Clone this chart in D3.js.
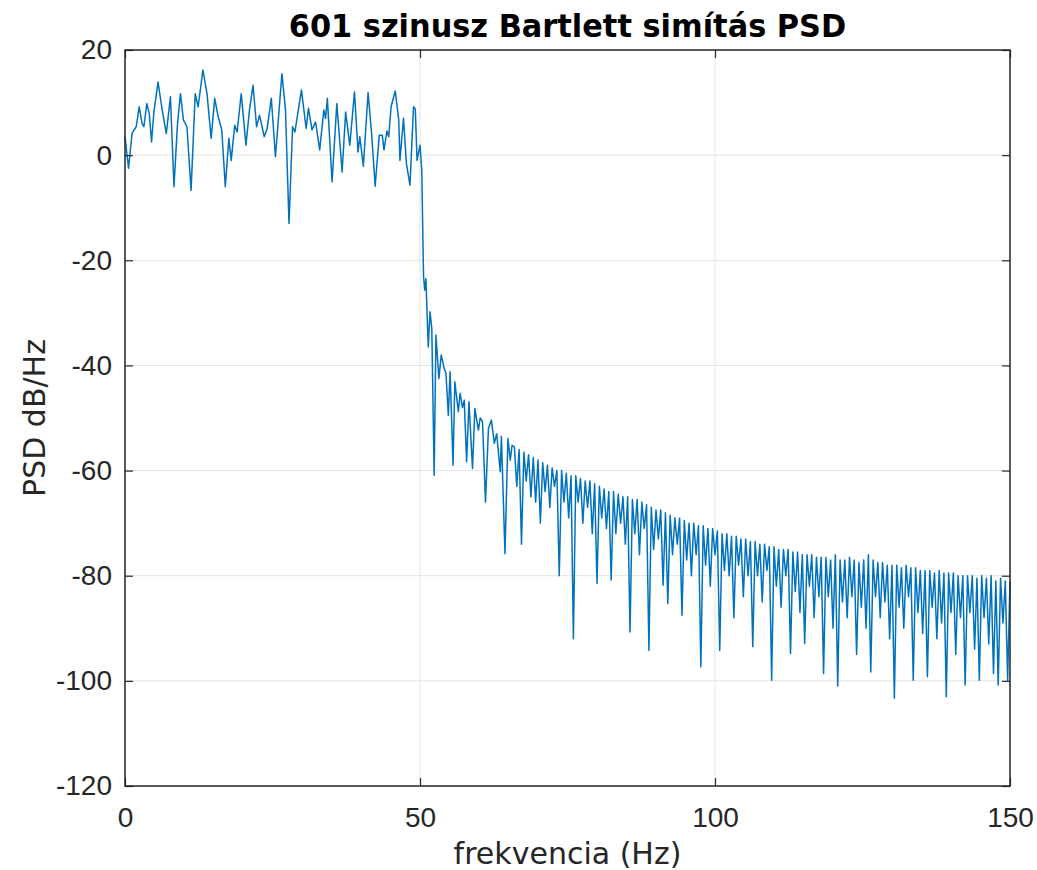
<!DOCTYPE html>
<html>
<head>
<meta charset="utf-8">
<script src="https://cdn.jsdelivr.net/npm/d3@7"></script>
<style>
  body { margin: 0; background: #fff; }
  svg { display: block; font-family: "DejaVu Sans", sans-serif; }
</style>
</head>
<body>
<svg id="chart" width="1037" height="870"></svg>
<script>
/* global d3 */

// pass band + transition as [Hz, dB/Hz]
const headFreq = [
    0.0, 0.6, 1.2, 1.9, 2.4, 2.9, 3.2, 3.7, 4.1, 4.5, 4.9, 5.6, 6.3, 7.0, 7.7, 8.3, 8.9, 9.4, 9.9, 10.5,
    11.2, 11.9, 12.4, 13.2, 13.9, 14.6, 15.2, 15.8, 16.4, 17.0, 17.6, 18.0, 18.6, 19.0, 19.7, 20.5, 21.1, 21.7, 22.3, 22.8,
    23.6, 24.1, 24.8, 25.5, 26.6, 27.2, 27.8, 28.4, 28.8, 29.9, 30.7, 31.1, 31.7, 32.3, 33.0, 33.7, 34.0, 34.3, 35.1, 35.9,
    36.8, 37.4, 38.1, 38.9, 39.5, 39.8, 40.4, 41.2, 41.8, 42.4, 43.1, 43.6, 43.9, 44.4, 44.7, 45.1, 45.8, 46.4, 46.6, 47.2,
    47.7, 48.3, 48.9, 49.2, 49.5, 50.0, 50.3, 50.6, 50.8, 51.0, 51.4, 51.7, 52.0, 52.4, 52.7, 53.2, 53.6, 54.1, 54.4, 54.8,
    55.1, 55.6, 55.9, 56.5, 56.8, 57.2, 57.5, 57.9, 58.3, 58.9, 59.3, 59.9, 60.2, 60.6, 61.1, 61.6, 62.1, 62.6, 63.0, 63.6,
    63.8, 64.4, 64.9, 65.3, 65.6
];
const headPsd = [
    3.5, -2.5, 4.2, 5.4, 9.2, 6.0, 5.4, 9.8, 8.0, 2.5, 8.2, 13.9, 8.6, 4.1, 11.1, -6.0, 6.0, 11.7, 6.7, 5.4,
    -6.7, 11.7, 9.2, 16.2, 11.7, 3.2, 10.8, 7.3, 4.8, -6.0, 3.2, -1.0, 5.7, 4.4, 11.7, 1.9, 8.6, 13.3, 5.4, 7.6,
    3.5, 5.1, 10.8, -0.3, 15.5, 8.6, -13.0, 5.4, 4.4, 12.4, 5.1, 8.9, 4.8, 6.3, 1.0, 8.6, 7.0, 10.8, -5.1, 9.8,
    -3.2, 8.2, 1.9, 12.0, 0.6, 3.5, -2.1, 11.9, 4.1, -5.9, 3.8, 3.8, 1.0, 4.6, 3.5, 9.2, 12.2, 6.7, -1.0, 7.0,
    -1.6, -5.7, 9.2, 8.8, -1.0, 1.9, -3.0, -23.0, -25.7, -23.5, -36.5, -29.8, -33.0, -60.9, -34.2, -42.5, -38.0, -40.6, -41.5, -49.5,
    -41.2, -59.0, -43.1, -48.8, -45.3, -48.0, -46.6, -58.3, -46.9, -59.6, -48.2, -52.3, -50.0, -50.7, -66.0, -52.0, -50.4, -54.8, -53.0, -60.2,
    -53.5, -75.8, -53.9, -58.0, -55.2
];

// stop band, every 0.4 Hz from 66 Hz to 150 Hz
const tailStart = 66, tailStep = 0.4;
const tailPsd = [
    -55.5, -63, -56, -74, -56.5, -62, -57, -65, -57.5, -66,
    -58, -70, -58.5, -64, -59, -67, -59.5, -63, -60, -80,
    -60, -66, -60.5, -69, -61, -92, -61, -66, -61.5, -70,
    -62, -67, -62, -72, -62.5, -81.5, -63, -69, -63.5, -71,
    -64, -80.8, -64, -72, -64.5, -70, -65, -74, -65, -90.7,
    -65.5, -72, -65.5, -76, -66, -71, -66.5, -94.2, -67, -75,
    -67.5, -73, -67.5, -81.8, -68, -85.3, -68.5, -76, -69, -74,
    -69, -87.5, -69.5, -77, -70, -80, -70, -76, -70.5, -97.3,
    -70.5, -78, -71, -82, -71, -76, -71.5, -94.2, -72, -79,
    -72, -80, -72.5, -88, -72.5, -78, -73, -84, -73, -80,
    -73.5, -93.5, -73.5, -80, -74, -85, -74, -79, -74.5, -99.9,
    -74.5, -82, -75, -86, -75, -80, -75, -94.8, -75.5, -83,
    -75.5, -87, -76, -92.9, -76, -82, -76, -88, -76.5, -84,
    -76.5, -98.6, -76.5, -84, -77, -90, -76, -101, -77, -85,
    -77, -88, -76.5, -84, -77, -95, -77.5, -86, -77, -90,
    -76, -98.3, -77, -84, -77.5, -88, -77.5, -85, -78, -92,
    -78, -103.3, -78, -86, -78.5, -90, -78, -84, -78.5, -99.9,
    -78.5, -87, -79, -91, -79, -99.2, -79, -86, -79.5, -92,
    -79, -89, -79.5, -103, -79.5, -87, -79.5, -95, -80, -88,
    -80, -100.8, -80, -87, -80, -94, -80.5, -99.9, -80, -88,
    -80.5, -93, -80, -98.6, -81, -100.8, -80.5, -89, -81, -100,
    -81
];

const xTicks = [0, 50, 100, 150];
const yTicks = [-120, -100, -80, -60, -40, -20, 0, 20];

const series = headFreq.map((f, i) => ({ f, v: headPsd[i] }))
    .concat(tailPsd.map((v, i) => ({ f: tailStart + i * tailStep, v })));

// layout
const margin = { left: 125, right: 27, top: 50, bottom: 84 };
const W = 1037, H = 870;
const iw = W - margin.left - margin.right;
const ih = H - margin.top - margin.bottom;
const axisColor = "#262626";

const svg = d3.select("#chart");
const g = svg.append("g").attr("transform", `translate(${margin.left},${margin.top})`);

const x = d3.scaleLinear().domain([0, 150]).range([0, iw]);
const y = d3.scaleLinear().domain([-120, 20]).range([ih, 0]);

// grid
g.append("g")
    .selectAll("line")
    .data(xTicks)
    .enter().append("line")
    .attr("x1", d => x(d)).attr("x2", d => x(d))
    .attr("y1", 0).attr("y2", ih)
    .attr("stroke", "#e3e3e3").attr("stroke-width", 1);
g.append("g")
    .selectAll("line")
    .data(yTicks)
    .enter().append("line")
    .attr("x1", 0).attr("x2", iw)
    .attr("y1", d => y(d)).attr("y2", d => y(d))
    .attr("stroke", "#e3e3e3").attr("stroke-width", 1);

// data line
const line = d3.line().x(d => x(d.f)).y(d => y(d.v));
g.append("path")
    .datum(series)
    .attr("d", line)
    .attr("fill", "none")
    .attr("stroke", "#0072BD")
    .attr("stroke-width", 1.5)
    .attr("stroke-linejoin", "round");

// axes, ticks pointing inward on every side
function styleAxis(sel) {
    sel.select(".domain").remove();
    sel.selectAll(".tick line").attr("stroke", axisColor).attr("stroke-width", 1.2);
    sel.selectAll(".tick text").attr("fill", axisColor).style("font-size", "28px");
}

const gx = g.append("g")
    .attr("transform", `translate(0,${ih})`)
    .call(d3.axisBottom(x).tickValues(xTicks).tickSizeInner(-8).tickFormat(d3.format("d")))
    .call(styleAxis);
gx.selectAll(".tick text").attr("y", 31).attr("dy", "0.35em");

g.append("g")
    .call(d3.axisTop(x).tickValues(xTicks).tickSizeInner(-8).tickFormat(""))
    .call(styleAxis);

const gy = g.append("g")
    .call(d3.axisLeft(y).tickValues(yTicks).tickSizeInner(-8).tickFormat(d => String(d)))
    .call(styleAxis);
gy.selectAll(".tick text").attr("x", -13);

g.append("g")
    .attr("transform", `translate(${iw},0)`)
    .call(d3.axisRight(y).tickValues(yTicks).tickSizeInner(-8).tickFormat(""))
    .call(styleAxis);

// box
g.append("rect")
    .attr("width", iw).attr("height", ih)
    .attr("fill", "none")
    .attr("stroke", axisColor)
    .attr("stroke-width", 1.5);

// labels
svg.append("text")
    .attr("transform", `translate(${margin.left + iw / 2},37) scale(0.95,1)`)
    .attr("text-anchor", "middle")
    .style("font-size", "32px").style("font-weight", "bold")
    .attr("fill", "#000")
    .text("601 szinusz Bartlett simítás PSD");

svg.append("text")
    .attr("x", margin.left + iw / 2).attr("y", 864)
    .attr("text-anchor", "middle")
    .style("font-size", "30px")
    .attr("fill", axisColor)
    .text("frekvencia (Hz)");

svg.append("text")
    .attr("transform", `translate(45,${margin.top + ih / 2}) rotate(-90)`)
    .attr("text-anchor", "middle")
    .style("font-size", "30px")
    .attr("fill", axisColor)
    .text("PSD dB/Hz");
</script>
</body>
</html>
